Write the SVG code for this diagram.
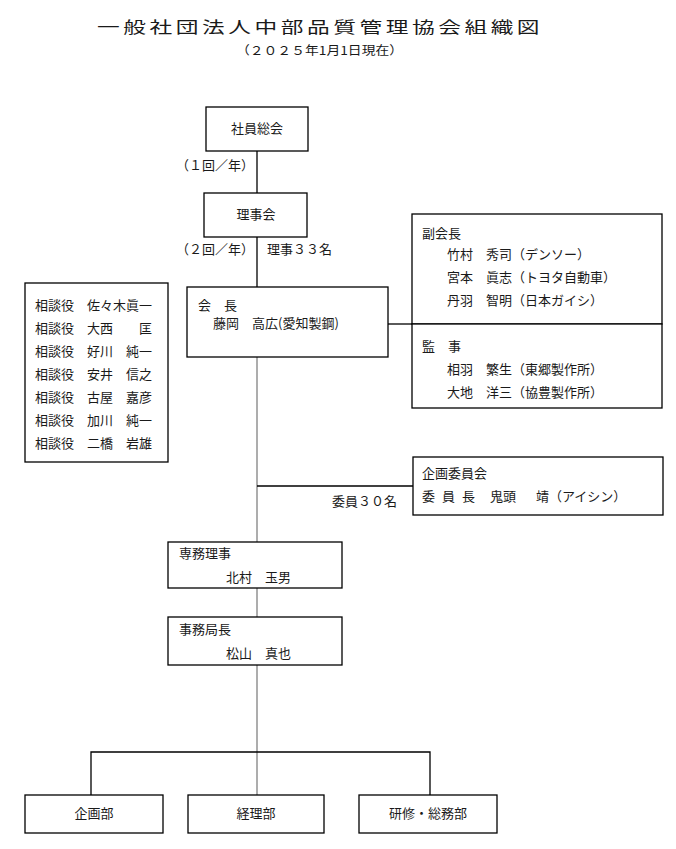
<svg xmlns="http://www.w3.org/2000/svg" width="676" height="849" viewBox="0 0 676 849">
<style>
text{font-family:"Noto Sans CJK JP","Noto Sans",sans-serif;font-size:13px;fill:#1a1a1a}
.box{fill:#fff;stroke:#000;stroke-width:1.3}
.ln{stroke:#000;stroke-width:1.3;fill:none}
.gl{stroke:#999;stroke-width:1.6;fill:none}
.c{text-anchor:middle}
</style>
<rect width="676" height="849" fill="#fff"/>
<g id="title">
<text transform="translate(97,33) scale(1.42,1)" style="font-size:16px;letter-spacing:2.5px">一般社団法人中部品質管理協会組織図</text>
<text transform="translate(236,55) scale(1.15,1)" style="font-size:12px">（２０２５年1月1日現在）</text>
</g>
<g id="connectors">
<line class="ln" x1="257" y1="151" x2="257" y2="193"/>
<line class="ln" x1="257" y1="237" x2="257" y2="287"/>
<line class="ln" x1="388" y1="324" x2="412" y2="324"/>
<line class="gl" x1="257" y1="357" x2="257" y2="542"/>
<line class="ln" x1="257" y1="486" x2="413" y2="486"/>
<line class="gl" x1="257" y1="588" x2="257" y2="617"/>
<line class="gl" x1="257" y1="665" x2="257" y2="795"/>
<polyline class="ln" points="91,795 91,752 430,752 430,795"/>
<text x="176" y="170">（１回／年）</text>
<text x="176" y="254">（２回／年）</text>
<text x="267" y="254">理事３３名</text>
<text x="332" y="506">委員３０名</text>
</g>
<g id="shain-sokai">
<rect class="box" x="206" y="107" width="102" height="44"/>
<text class="c" x="257" y="133">社員総会</text>
</g>
<g id="rijikai">
<rect class="box" x="204" y="193" width="103" height="44"/>
<text class="c" x="256" y="219">理事会</text>
</g>
<g id="kaicho">
<rect class="box" x="187" y="287" width="201" height="70"/>
<text x="198" y="310">会　長</text>
<text x="213" y="328">藤岡　高広(愛知製鋼)</text>
</g>
<g id="fukukaicho">
<rect class="box" x="412" y="214" width="250" height="110"/>
<text x="422" y="238">副会長</text>
<text x="447" y="259">竹村　秀司（デンソー）</text>
<text x="447" y="282">宮本　眞志（トヨタ自動車）</text>
<text x="447" y="305">丹羽　智明（日本ガイシ）</text>
</g>
<g id="kanji">
<rect class="box" x="412" y="324" width="250" height="84"/>
<text x="422" y="351">監　事</text>
<text x="447" y="374">相羽　繁生（東郷製作所）</text>
<text x="447" y="397">大地　洋三（協豊製作所）</text>
</g>
<g id="sodanyaku">
<rect class="box" x="25" y="283" width="143" height="179"/>
<text x="35" y="310">相談役　佐々木眞一</text>
<text x="35" y="333">相談役　大西　　匡</text>
<text x="35" y="356">相談役　好川　純一</text>
<text x="35" y="379">相談役　安井　信之</text>
<text x="35" y="402">相談役　古屋　嘉彦</text>
<text x="35" y="425">相談役　加川　純一</text>
<text x="35" y="448">相談役　二橋　岩雄</text>
</g>
<g id="kikaku-iinkai">
<rect class="box" x="413" y="457" width="250" height="58"/>
<text x="422" y="478">企画委員会</text>
<text y="501"><tspan x="422">委</tspan><tspan x="442">員</tspan><tspan x="462">長</tspan><tspan x="490">鬼頭</tspan><tspan x="536">靖（アイシン）</tspan></text>
</g>
<g id="senmu-riji">
<rect class="box" x="168" y="542" width="174" height="46"/>
<text x="179" y="558">専務理事</text>
<text x="226" y="582">北村　玉男</text>
</g>
<g id="jimukyokucho">
<rect class="box" x="168" y="617" width="174" height="48"/>
<text x="179" y="634">事務局長</text>
<text x="226" y="658">松山　真也</text>
</g>
<g id="kikakubu">
<rect class="box" x="25" y="795" width="138" height="38"/>
<text class="c" x="94" y="818">企画部</text>
</g>
<g id="keiribu">
<rect class="box" x="188" y="795" width="136" height="38"/>
<text class="c" x="256" y="818">経理部</text>
</g>
<g id="kenshu-somubu">
<rect class="box" x="359" y="795" width="138" height="38"/>
<text class="c" x="428" y="818">研修・総務部</text>
</g>
</svg>
